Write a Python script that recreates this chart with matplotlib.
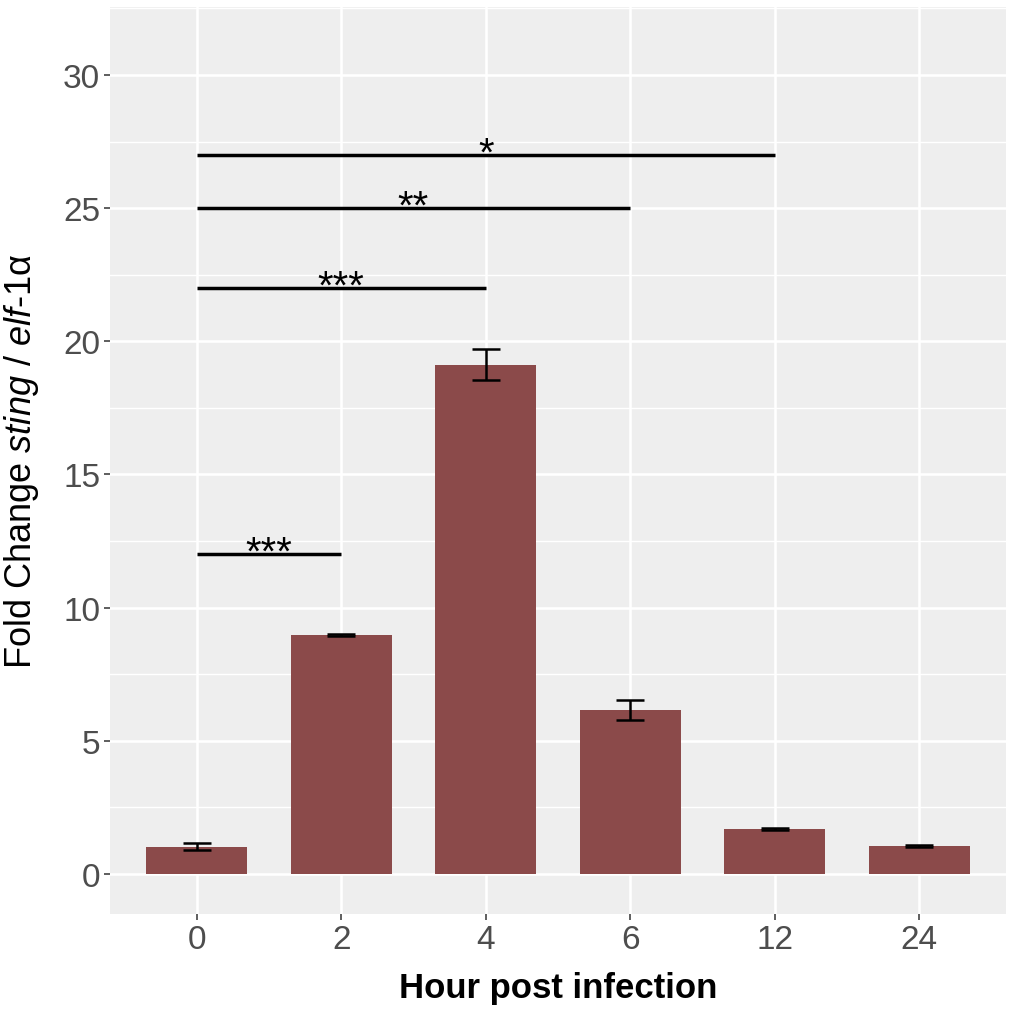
import matplotlib
matplotlib.use("Agg")
import matplotlib.pyplot as plt
from matplotlib.ticker import MultipleLocator

plt.rcParams['font.family'] = ['Liberation Sans', 'DejaVu Sans']
plt.rcParams['mathtext.fontset'] = 'custom'
plt.rcParams['mathtext.rm'] = 'Liberation Sans'
plt.rcParams['mathtext.it'] = 'Liberation Sans:italic'

categories = ["0", "2", "4", "6", "12", "24"]
means = [1.03, 8.97, 19.12, 6.16, 1.69, 1.05]
errors = [0.13, 0.04, 0.58, 0.36, 0.04, 0.04]

# significance brackets: (start index, end index, y, label)
sig_start = [0, 0, 0, 0]
sig_end = [1, 2, 3, 4]
sig_y = [12, 22, 25, 27]
sig_labels = ["***", "***", "**", "*"]

W, H = 1012, 1012
fig = plt.figure(figsize=(W / 100, H / 100), dpi=100)
ax = fig.add_axes([110 / W, (H - 915) / H, (1006 - 110) / W, (915 - 8) / H])
ax.set_facecolor('#EEEEEE')
for s in ax.spines.values():
    s.set_visible(False)

x = list(range(len(categories)))
ax.set_axisbelow(True)
ax.yaxis.set_major_locator(MultipleLocator(5))
ax.yaxis.set_minor_locator(MultipleLocator(2.5))
ax.grid(which='major', color='white', linewidth=1.9)
ax.grid(which='minor', axis='y', color='white', linewidth=1.0)

ax.bar(x, means, width=0.7, color='#8B4A4A', zorder=2)
ax.errorbar(x, means, yerr=errors, fmt='none', ecolor='black',
            elinewidth=1.8, capsize=10, capthick=1.8, zorder=3)

for a, b, y, lab in zip(sig_start, sig_end, sig_y, sig_labels):
    ax.plot([a, b], [y, y], color='black', linewidth=2.5, solid_capstyle='butt', zorder=4)
    ax.annotate(lab, xy=((a + b) / 2, y), xytext=(0, -7), textcoords='offset points',
                ha='center', va='baseline', fontsize=29, color='black', zorder=5)

ax.set_xlim(-0.6, 5.6)
ax.set_ylim(-1.5, 32.55)
ax.set_xticks(x)
ax.set_xticklabels(categories)
ax.tick_params(axis='both', which='major', labelsize=24, labelcolor='#4D4D4D',
               color='#333333', length=4, width=1.1, pad=3)
ax.tick_params(axis='y', which='minor', length=0)

ax.set_xlabel('Hour post infection', fontsize=25, fontweight='bold')
ax.set_ylabel(r'Fold Change $\mathit{sting}$ / $\mathit{elf}$-1α', fontsize=26)
ax.xaxis.set_label_coords(0.5, -0.063)
ax.yaxis.set_label_coords(-0.0765, 0.5)

fig.savefig('out.png', dpi=100, facecolor='white')
